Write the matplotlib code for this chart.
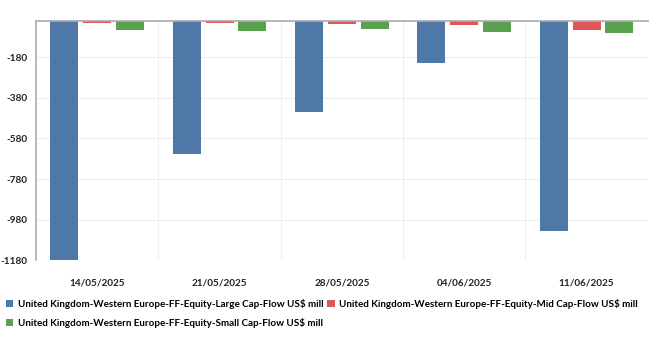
import matplotlib.pyplot as plt
import numpy as np

dates = ['14/05/2025', '21/05/2025', '28/05/2025', '04/06/2025', '11/06/2025']
large_cap = [-1185, -658, -451, -209, -1037]
mid_cap = [-11, -11, -19, -22, -45]
small_cap = [-48, -50, -40, -57, -60]
labels = [
    'United Kingdom-Western Europe-FF-Equity-Large Cap-Flow US\\$ mill',
    'United Kingdom-Western Europe-FF-Equity-Mid Cap-Flow US\\$ mill',
    'United Kingdom-Western Europe-FF-Equity-Small Cap-Flow US\\$ mill',
]
colors = ['#4e79a7', '#e15759', '#59a14f']

plt.rcParams['font.family'] = ['Lato', 'DejaVu Sans']
plt.rcParams['axes.unicode_minus'] = False

fig = plt.figure(figsize=(6.57, 3.37), dpi=100)
ax = fig.add_axes([0.0548, 0.2276, 0.9312, 0.7114])

x = np.arange(len(dates))
w = 0.229
step = 0.268
bars = []
for i, (vals, col, lab) in enumerate(zip([large_cap, mid_cap, small_cap], colors, labels)):
    bars.append(ax.bar(x + (i - 1) * step, vals, width=w, color=col, label=lab, zorder=2))

ax.set_xlim(-0.5, len(dates) - 0.5)
ax.set_ylim(-1180, 0)
ax.set_yticks(np.arange(-1180, 0, 200))
ax.set_xticks(x)
ax.set_xticklabels(dates)
ax.set_xticks(np.arange(0.5, len(dates) - 1, 1), minor=True)
ax.tick_params(axis='both', which='both', length=0, labelsize=7.2)
ax.tick_params(axis='y', pad=6)
ax.tick_params(axis='x', pad=13)
for t in ax.get_xticklabels() + ax.get_yticklabels():
    t.set_fontweight('bold')
    t.set_color('#222222')

ax.grid(axis='y', color='#eeeeee', linewidth=0.8, zorder=0)
ax.grid(axis='x', which='minor', color='#eeeeee', linewidth=0.8, zorder=0)
for s in ['right', 'bottom']:
    ax.spines[s].set_visible(False)
for s in ['top', 'left']:
    ax.spines[s].set_color('#aaaaaa')
    ax.spines[s].set_linewidth(1.2)

# row-wise order: Large, Mid on first row, Small on second
order = [0, 2, 1]
fig.legend([bars[i] for i in order], [labels[i] for i in order],
           loc='upper left', bbox_to_anchor=(0.003, 0.125), ncol=2, frameon=False,
           prop={'size': 7.1, 'weight': 'bold'}, handlelength=0.75, handleheight=0.75,
           handletextpad=0.45, columnspacing=0.4, labelspacing=0.95, borderaxespad=0)

fig.savefig('out.png', dpi=100)
